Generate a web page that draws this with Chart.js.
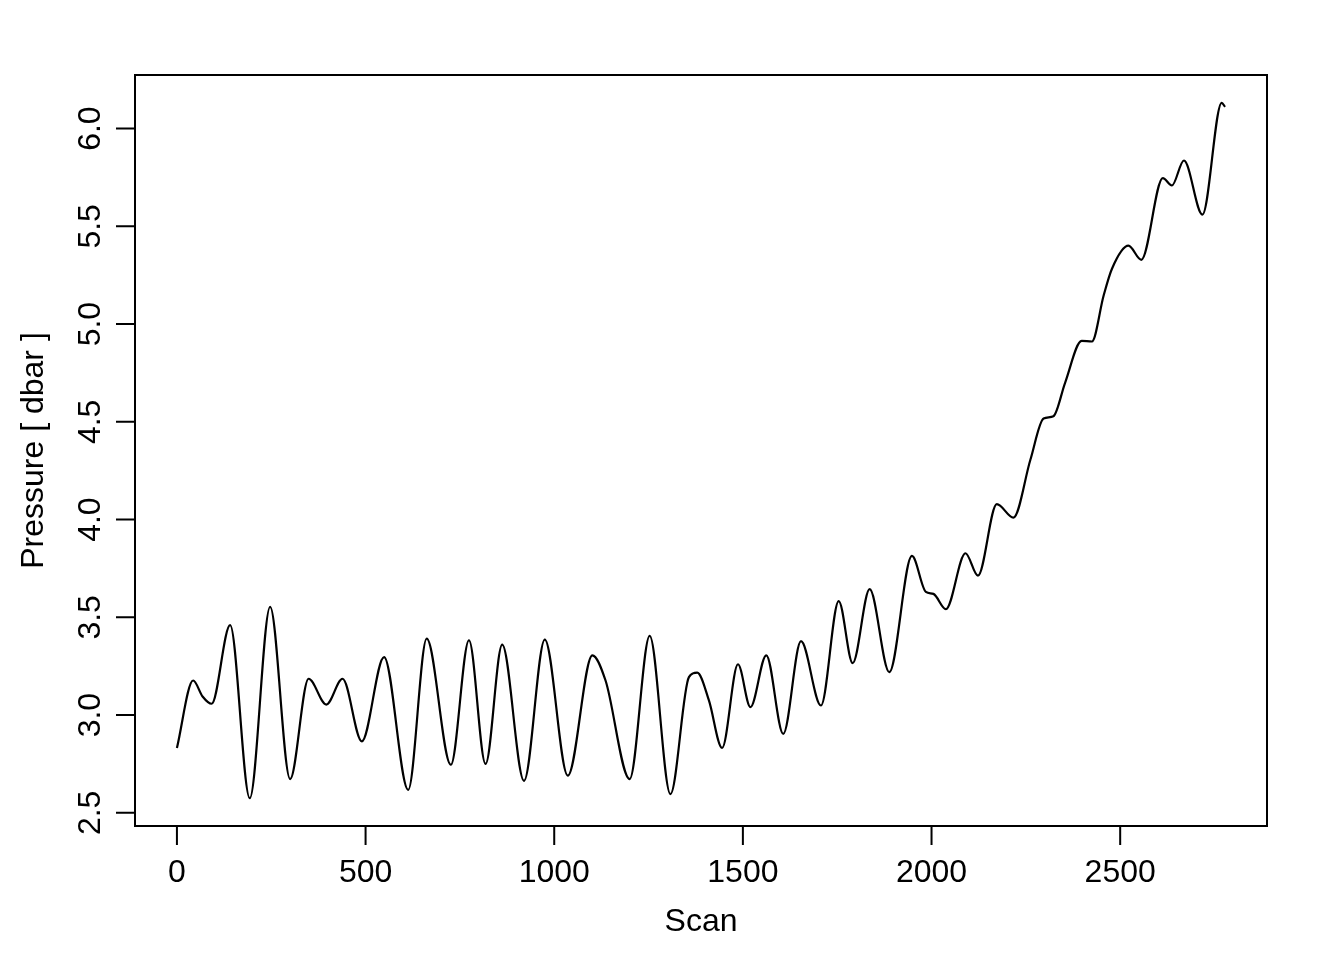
<!DOCTYPE html>
<html>
<head>
<meta charset="utf-8">
<script src="https://cdn.jsdelivr.net/npm/chart.js@4"></script>
<style>
  html, body { margin: 0; padding: 0; background: #fff; }
  canvas { display: block; }
</style>
</head>
<body>
<canvas id="pressureChart" width="1344" height="960"></canvas>
<script>
// Scan vs pressure
const scan = [0, 43, 68, 92, 141, 193, 247, 300, 349, 396, 439, 490, 549, 613, 662, 726, 774, 818, 862, 920,
  975, 1036, 1101, 1136, 1200, 1253, 1308, 1357, 1379, 1410, 1445, 1487, 1520, 1562, 1607, 1654, 1707, 1754, 1791, 1836,
  1888, 1948, 1985, 2005, 2038, 2090, 2123, 2173, 2217, 2262, 2297, 2323, 2354, 2398, 2425, 2456, 2478, 2522, 2556,
  2613, 2637, 2669, 2718, 2769, 2778];
const pressure = [2.832, 3.177, 3.095, 3.058, 3.460, 2.575, 3.554, 2.673, 3.186, 3.054, 3.186, 2.866, 3.297, 2.618, 3.391, 2.746, 3.383, 2.750, 3.360, 2.664,
  3.386, 2.690, 3.306, 3.177, 2.673, 3.405, 2.596, 3.194, 3.217, 3.075, 2.832, 3.260, 3.041, 3.306, 2.904, 3.378, 3.049, 3.583, 3.266, 3.644,
  3.220, 3.814, 3.630, 3.620, 3.542, 3.828, 3.713, 4.079, 4.010, 4.306, 4.517, 4.529, 4.700, 4.914, 4.911, 5.145, 5.282, 5.401, 5.329,
  5.747, 5.709, 5.837, 5.560, 6.132, 6.111];

const xTicks = [0, 500, 1000, 1500, 2000, 2500];
const yTicks = [2.5, 3.0, 3.5, 4.0, 4.5, 5.0, 5.5, 6.0];

// R style 4% padding on each side
const xPad = 0.04 * (Math.max(...scan) - Math.min(...scan));
const yPad = 0.04 * (Math.max(...pressure) - Math.min(...pressure));

const FONT = '32px "Liberation Sans", Arial, sans-serif';

// box, ticks and labels drawn the way base R does it
const rAxes = {
  id: 'rAxes',
  afterDraw(chart) {
    const { ctx, chartArea: a, scales: { x, y } } = chart;
    ctx.save();
    ctx.strokeStyle = '#000';
    ctx.fillStyle = '#000';
    ctx.lineWidth = 2;
    ctx.strokeRect(a.left, a.top, a.right - a.left, a.bottom - a.top);

    ctx.beginPath();
    xTicks.forEach(v => {
      const px = x.getPixelForValue(v);
      ctx.moveTo(px, a.bottom);
      ctx.lineTo(px, a.bottom + 19);
    });
    yTicks.forEach(v => {
      const py = y.getPixelForValue(v);
      ctx.moveTo(a.left, py);
      ctx.lineTo(a.left - 19, py);
    });
    ctx.stroke();

    ctx.font = FONT;
    ctx.textAlign = 'center';
    ctx.textBaseline = 'alphabetic';
    xTicks.forEach(v => ctx.fillText(String(v), x.getPixelForValue(v), 882));
    ctx.fillText('Scan', (a.left + a.right) / 2, 931);

    yTicks.forEach(v => {
      ctx.save();
      ctx.translate(100, y.getPixelForValue(v));
      ctx.rotate(-Math.PI / 2);
      ctx.fillText(v.toFixed(1), 0, 0);
      ctx.restore();
    });
    ctx.save();
    ctx.translate(43, (a.top + a.bottom) / 2);
    ctx.rotate(-Math.PI / 2);
    ctx.fillText('Pressure [ dbar ]', 0, 0);
    ctx.restore();
    ctx.restore();
  }
};

new Chart(document.getElementById('pressureChart'), {
  type: 'line',
  data: {
    datasets: [{
      data: scan.map((s, i) => ({ x: s, y: pressure[i] })),
      borderColor: '#000',
      borderWidth: 2.2,
      pointRadius: 0,
      fill: false,
      cubicInterpolationMode: 'monotone'
    }]
  },
  options: {
    responsive: false,
    animation: false,
    layout: { padding: { left: 135, right: 77, top: 75, bottom: 134 } },
    plugins: { legend: { display: false }, tooltip: { enabled: false } },
    scales: {
      x: { type: 'linear', display: false, min: Math.min(...scan) - xPad, max: Math.max(...scan) + xPad },
      y: { type: 'linear', display: false, min: Math.min(...pressure) - yPad, max: Math.max(...pressure) + yPad }
    }
  },
  plugins: [rAxes]
});
</script>
</body>
</html>
